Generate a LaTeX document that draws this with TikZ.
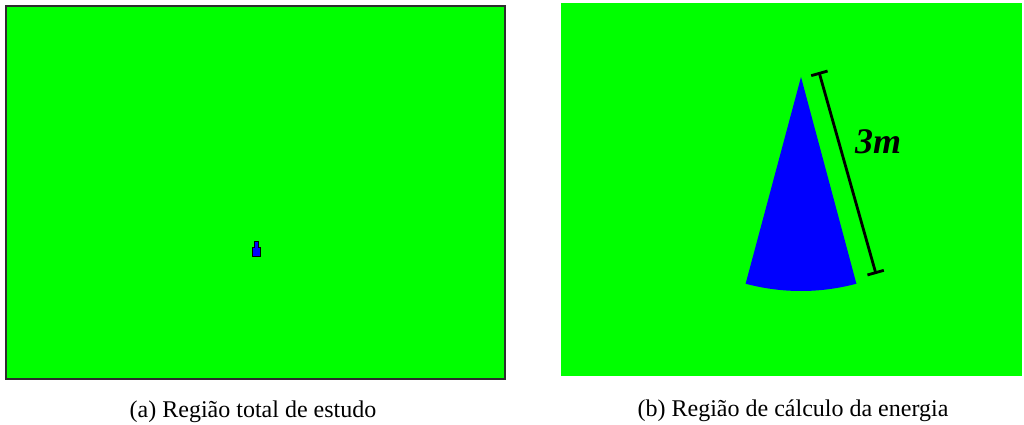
\documentclass[tikz,border=0pt]{standalone}
\usepackage{fontspec}
\setmainfont{Liberation Serif}
\usetikzlibrary{arrows.meta}
\definecolor{fieldgreen}{RGB}{0,255,0}
\definecolor{coneblue}{RGB}{0,0,255}
\definecolor{framegrey}{RGB}{45,45,45}
\tikzset{
  caption/.style={font=\fontsize{24}{28}\selectfont, anchor=base, inner sep=0pt},
  dimlabel/.style={font=\fontsize{36}{40}\selectfont\bfseries\itshape, anchor=base west, inner sep=0pt},
  dimline/.style={line width=2.8pt, {Bar[width=17pt,line width=2.8pt]}-{Bar[width=17pt,line width=2.8pt]}}
}
\begin{document}
\begin{tikzpicture}[x=1pt,y=1pt]
\useasboundingbox[fill=white] (0,0) rectangle (1024,424);
% (a) total region
\draw[fill=fieldgreen, draw=framegrey, line width=2.2pt] (6,418) rectangle (505,45);
\fill[coneblue, draw=black, line width=0.9pt]
  (252.3,167.5) -- (260.3,167.5) -- (260.3,177) -- (258.3,177) -- (258.3,183) -- (254.3,183) -- (254.3,177) -- (252.3,177) -- cycle;
% (b) energy region
\fill[fieldgreen] (561,48) rectangle (1022,421);
\coordinate (apex) at (801,347);
\fill[coneblue] (apex) -- ++(255:214) arc[start angle=255, end angle=285, radius=214] -- cycle;
\coordinate (dimtop) at (819,352);
\coordinate (dimbot) at (876,150);
\draw[dimline] (dimtop) -- (dimbot);
\node[dimlabel] (len) at (855,271) {3m};
% captions
\node[caption] (capa) at (253,7) {(a) Região total de estudo};
\node[caption] (capb) at (793,8) {(b) Região de cálculo da energia};
\end{tikzpicture}
\end{document}
